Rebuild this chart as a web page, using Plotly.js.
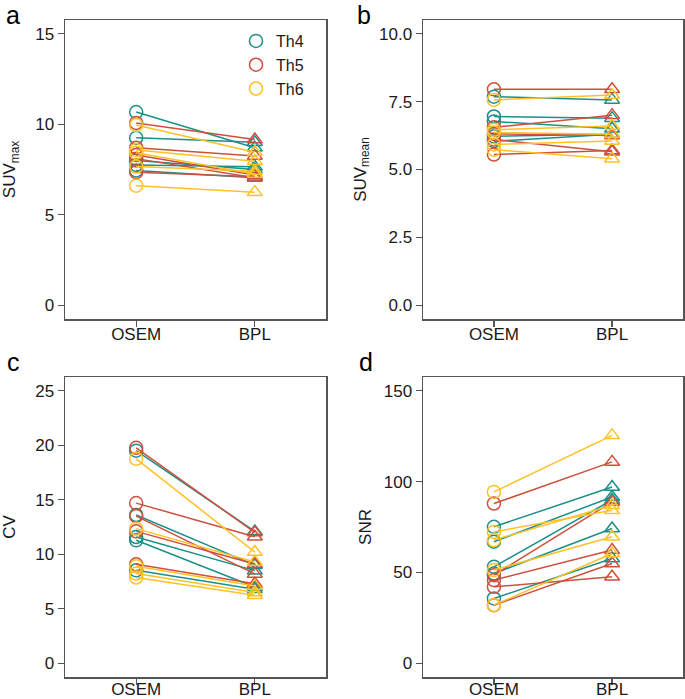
<!DOCTYPE html>
<html>
<head>
<meta charset="utf-8">
<script src="https://cdn.plot.ly/plotly-3.0.1.min.js"></script>
<style>body{margin:0;background:#fff}#graf{width:685px;height:699px}</style>
</head>
<body>
<div id="graf"></div>
<script>
var metodos = ['OSEM', 'BPL'];
var grupos = ['Th4', 'Th5', 'Th6'];
var colores = ['#1B9088', '#CD503C', '#FFC125'];

// a: SUVmax  (filas: Th4, Th5, Th6)
var suvmaxOsem = [[10.67, 9.25, 8.0, 7.75, 7.45], [10.07, 8.70, 8.30, 8.10, 7.35], [9.95, 8.58, 8.43, 7.66, 6.61]];
var suvmaxBpl  = [[8.70, 9.00, 7.50, 7.65, 7.05], [9.15, 8.25, 7.20, 7.05, 7.10], [8.45, 7.95, 7.25, 7.40, 6.25]];

// b: SUVmean
var suvmeanOsem = [[7.68, 6.95, 6.77, 6.22, 6.04], [7.95, 6.55, 6.31, 6.10, 5.55], [7.56, 6.46, 6.36, 5.92, 5.73]];
var suvmeanBpl  = [[7.56, 6.89, 6.50, 6.30, 6.30], [7.95, 7.00, 6.25, 5.65, 5.70], [7.74, 6.60, 6.30, 6.05, 5.40]];

// c: CV
var cvOsem = [[19.5, 13.6, 11.58, 11.28, 8.53], [19.76, 14.69, 13.5, 12.1, 9.08], [18.75, 12.35, 8.9, 8.23, 7.87]];
var cvBpl  = [[12.1, 9.0, 8.5, 7.0, 6.8], [12.0, 11.6, 8.2, 9.1, 7.3], [10.2, 9.3, 7.1, 6.5, 6.25]];

// d: SNR
var snrOsem = [[75.1, 66.9, 53.1, 49.4, 35.7], [87.9, 48.5, 45.8, 42.1, 32.0], [94.3, 72.3, 67.8, 51.3, 32.0]];
var snrBpl  = [[97.0, 91.5, 89.9, 74.2, 57.7], [110.8, 88.8, 62.3, 47.6, 54.9], [125.4, 84.2, 87.0, 69.6, 60.4]];

var data = [];

function panel(osem, bpl, xa, ya, leyenda) {
    for (var g = 0; g < grupos.length; g++) {
        var lx = [], ly = [];
        for (var i = 0; i < osem[g].length; i++) {
            lx.push(metodos[0], metodos[1], null);
            ly.push(osem[g][i], bpl[g][i], null);
        }
        data.push({
            x: lx, y: ly, xaxis: xa, yaxis: ya,
            mode: 'lines', line: {color: colores[g], width: 1.5},
            showlegend: false, hoverinfo: 'skip', connectgaps: false
        });
        data.push({
            x: osem[g].map(function () { return metodos[0]; }), y: osem[g],
            xaxis: xa, yaxis: ya, mode: 'markers', name: grupos[g],
            legendgroup: grupos[g], showlegend: leyenda,
            marker: {symbol: 'circle-open', size: 13, color: colores[g], line: {width: 1.5}}
        });
        data.push({
            x: bpl[g].map(function () { return metodos[1]; }), y: bpl[g],
            xaxis: xa, yaxis: ya, mode: 'markers', name: grupos[g],
            legendgroup: grupos[g], showlegend: false,
            marker: {symbol: 'triangle-up-open', size: 13, color: colores[g], line: {width: 1.5}}
        });
    }
}

panel(suvmaxOsem, suvmaxBpl, 'x', 'y', true);
panel(suvmeanOsem, suvmeanBpl, 'x2', 'y2', false);
panel(cvOsem, cvBpl, 'x3', 'y3', false);
panel(snrOsem, snrBpl, 'x4', 'y4', false);

var W = 685, H = 699;
var fuente = {family: 'Liberation Sans, Arial, sans-serif', size: 17, color: '#1a1a1a'};

function ejeX(dom, anchor, standoff) {
    return {
        domain: dom, anchor: anchor, type: 'category', categoryarray: metodos,
        range: [-0.6, 1.6], showline: true, mirror: true, linecolor: '#555', linewidth: 1.5,
        ticks: 'outside', ticklen: 6, tickcolor: '#555', tickwidth: 1.2, ticklabelstandoff: standoff,
        showgrid: false, zeroline: false, tickfont: fuente
    };
}
function ejeY(dom, anchor, rango, dtick, fmt, titulo, standoff) {
    return {
        domain: dom, anchor: anchor, range: rango, dtick: dtick, tick0: 0, tickformat: fmt,
        showline: true, mirror: true, linecolor: '#555', linewidth: 1.5,
        ticks: 'outside', ticklen: 6, tickcolor: '#555', tickwidth: 1.2,
        showgrid: false, zeroline: false, tickfont: fuente,
        title: {text: titulo, font: fuente, standoff: standoff}
    };
}

var colA = [65 / W, 326 / W], colB = [423 / W, 683 / W];
var filA = [1 - 319 / H, 1 - 20 / H], filB = [1 - 677 / H, 1 - 377 / H];

// letras de panel, y = borde superior de la caja de texto
function letra(t, x, y) {
    return {text: t, xref: 'paper', yref: 'paper', x: x / W, y: 1 - y / H,
            xanchor: 'left', yanchor: 'top', showarrow: false, borderpad: 0,
            font: {family: 'Liberation Sans, Arial, sans-serif', size: 25, color: '#000'}};
}

var layout = {
    width: W, height: H,
    margin: {l: 0, r: 0, t: 0, b: 0},
    paper_bgcolor: '#fff', plot_bgcolor: '#fff',
    showlegend: true,
    legend: {x: 236 / W, y: 1 - 24 / H, xanchor: 'left', yanchor: 'top',
             bgcolor: 'rgba(0,0,0,0)', font: {family: fuente.family, size: 16, color: '#1a1a1a'},
             tracegroupgap: 0},
    xaxis: ejeX(colA, 'y', -7), yaxis: ejeY(filA, 'x', [-0.75, 15.75], 5, 'd', 'SUV<sub>max</sub>', 20),
    xaxis2: ejeX(colB, 'y2', -7), yaxis2: ejeY(filA, 'x2', [-0.5, 10.5], 2.5, '.1f', 'SUV<sub>mean</sub>', 8),
    xaxis3: ejeX(colA, 'y3', -10), yaxis3: ejeY(filB, 'x3', [-1.25, 26.25], 5, 'd', 'CV', 20),
    xaxis4: ejeX(colB, 'y4', -10), yaxis4: ejeY(filB, 'x4', [-7.5, 157.5], 50, 'd', 'SNR', 8),
    annotations: [letra('a', 5, 0), letra('b', 356, 0), letra('c', 6, 347), letra('d', 358, 347)]
};

Plotly.newPlot(document.getElementById('graf'), data, layout, {staticPlot: true});
</script>
</body>
</html>
